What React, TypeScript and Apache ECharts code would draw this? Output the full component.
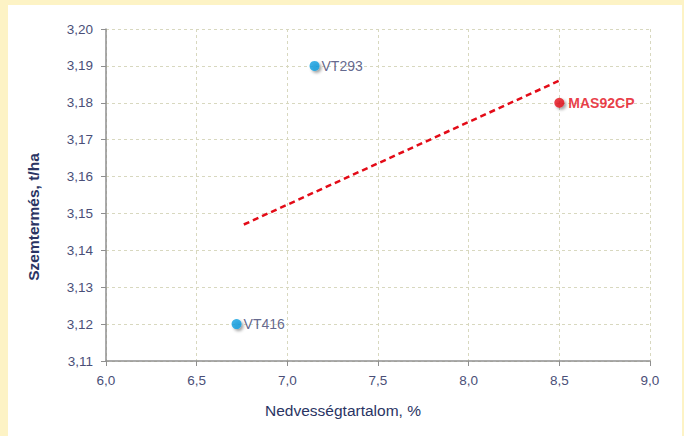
import React, { useEffect, useRef } from "react";
import * as echarts from "echarts";

const names = ["VT416", "VT293", "MAS92CP"];
const moisture = [6.72, 7.15, 8.5];
const yieldT = [3.12, 3.19, 3.18];
const pointColors = ["#0a9ee0", "#0a9ee0", "#e30b17"];
const trendX = [6.76, 8.5];
const trendY = [3.147, 3.186];
const xTitle = "Nedvességtartalom, %";
const yTitle = "Szemtermés, t/ha";

const FONT = "Liberation Sans";
const TXT = "#4a4f78";

export default function App() {
  const ref = useRef<HTMLDivElement>(null);
  useEffect(() => {
    document.body.style.margin = "0";
    const chart = echarts.init(ref.current!, null, { renderer: "svg" });
    const pts = names.map((n, i) => ({
      value: [moisture[i], yieldT[i]],
      name: n,
      itemStyle: { color: pointColors[i] },
      label:
        n === "MAS92CP"
          ? { color: "#e30b17", fontWeight: "bold", distance: 4 }
          : { color: "#3b4170", distance: 2 },
    }));
    chart.setOption({
      animation: false,
      backgroundColor: "#fdf3c5",
      textStyle: { fontFamily: FONT },
      graphic: [
        {
          type: "rect",
          z: -100,
          silent: true,
          shape: { x: 8, y: 5, width: 674, height: 431 },
          style: { fill: "#ffffff" },
        },
        {
          type: "text",
          x: 33,
          y: 217,
          rotation: Math.PI / 2,
          style: {
            text: yTitle,
            fill: "#2a3463",
            fontFamily: FONT,
            fontSize: 15.5,
            fontWeight: "bold",
            textAlign: "center",
            textVerticalAlign: "middle",
          },
        },
        {
          type: "text",
          x: 343,
          y: 410,
          style: {
            text: xTitle,
            fill: "#2a3463",
            fontFamily: FONT,
            fontSize: 15.5,
            textAlign: "center",
            textVerticalAlign: "middle",
          },
        },
      ],
      grid: { left: 106, right: 34, top: 29, bottom: 75 },
      xAxis: {
        type: "value",
        min: 6,
        max: 9,
        interval: 0.5,
        axisLine: { show: true, lineStyle: { color: "#8f8f8f", width: 1.5 } },
        axisTick: { show: true, length: 5, lineStyle: { color: "#8f8f8f" } },
        axisLabel: {
          color: TXT,
          fontSize: 13.5,
          margin: 12,
          fontFamily: FONT,
          formatter: (v: number) => v.toFixed(1).replace(".", ","),
        },
        splitLine: {
          show: true,
          lineStyle: { color: "#d8d8bf", type: [3, 3], width: 1 },
        },
      },
      yAxis: {
        type: "value",
        min: 3.11,
        max: 3.2,
        interval: 0.01,
        axisLine: { show: true, lineStyle: { color: "#8f8f8f", width: 1.5 } },
        axisTick: { show: true, length: 5, lineStyle: { color: "#8f8f8f" } },
        axisLabel: {
          color: TXT,
          fontSize: 13.5,
          margin: 13,
          fontFamily: FONT,
          formatter: (v: number) => v.toFixed(2).replace(".", ","),
        },
        splitLine: {
          show: true,
          lineStyle: { color: "#d8d8bf", type: [3, 3], width: 1 },
        },
      },
      series: [
        {
          type: "line",
          data: trendX.map((x, i) => [x, trendY[i]]),
          showSymbol: false,
          symbol: "none",
          lineStyle: { color: "#e30b17", width: 2.5, type: [6, 4] },
          z: 3,
        },
        {
          type: "scatter",
          data: pts,
          symbolSize: 10,
          z: 4,
          itemStyle: {
            shadowColor: "rgba(0,0,0,0.45)",
            shadowBlur: 3,
            shadowOffsetX: 2,
            shadowOffsetY: 2,
          },
          label: {
            show: true,
            position: "right",
            formatter: (p: any) => p.name,
            fontSize: 14,
            fontFamily: FONT,
          },
        },
      ],
    });
    return () => chart.dispose();
  }, []);
  return <div ref={ref} style={{ width: 684, height: 436 }} />;
}
